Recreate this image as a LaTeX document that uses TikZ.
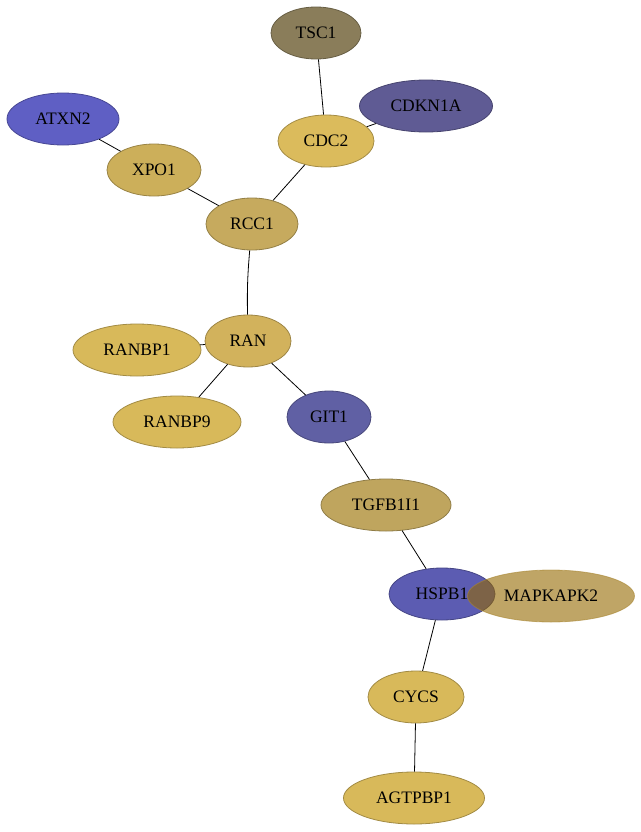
\documentclass[tikz,border=0pt]{standalone}
\usepackage{fontspec}
\setmainfont{Liberation Serif}
\usetikzlibrary{shapes.geometric}
\definecolor{cTSC}{HTML}{8A7D5A}
\definecolor{cCDKN}{HTML}{5F5B94}
\definecolor{cATXN}{HTML}{5F5FC4}
\definecolor{cCDC}{HTML}{DBBB5C}
\definecolor{cXPO}{HTML}{CCAF5A}
\definecolor{cRCC}{HTML}{C6AA5E}
\definecolor{cRAN}{HTML}{D2B25C}
\definecolor{cGold}{HTML}{D8B95A}
\definecolor{cGIT}{HTML}{6060A4}
\definecolor{cTGF}{HTML}{BFA55E}
\definecolor{cHSP}{HTML}{5C5CB2}
\definecolor{cMAP}{RGB}{148,105,0}
\tikzset{
  gene/.style={ellipse, inner sep=0pt, font=\fontsize{17.5bp}{20bp}\selectfont, line width=0.8pt},
  edge/.style={draw=black, line width=0.8pt},
}
\newcommand{\gn}[6]{\node[gene, minimum width=#4bp, minimum height=52bp, fill=#5, draw=#5!75!black] (#1) at (#2bp,-#3bp) {#6};}
\begin{document}
\begin{tikzpicture}
\useasboundingbox (0,0) rectangle (641bp,-832bp);
\gn{TSC1}{316}{33}{90}{cTSC}{TSC1}
\gn{CDKN1A}{426}{106}{133}{cCDKN}{CDKN1A}
\gn{ATXN2}{63}{119}{112}{cATXN}{ATXN2}
\gn{CDC2}{326}{141}{96}{cCDC}{CDC2}
\gn{XPO1}{154}{170}{94}{cXPO}{XPO1}
\gn{RCC1}{252}{224}{92}{cRCC}{RCC1}
\gn{RAN}{248}{341}{86}{cRAN}{RAN}
\gn{RANBP1}{137}{350}{128}{cGold}{RANBP1}
\gn{RANBP9}{177}{422}{128}{cGold}{RANBP9}
\gn{GIT1}{329}{417}{84}{cGIT}{GIT1}
\gn{TGFB1I1}{386}{505}{130}{cTGF}{TGFB1I1}
\gn{HSPB1}{442}{594}{106}{cHSP}{HSPB1}
\node[gene, minimum width=167bp, minimum height=52bp, fill=cMAP, fill opacity=0.6, text opacity=1, draw=cMAP!80!white, draw opacity=0.6] (MAPKAPK2) at (551bp,-596bp) {MAPKAPK2};
\gn{CYCS}{416}{697}{96}{cGold}{CYCS}
\gn{AGTPBP1}{414}{798}{141}{cGold}{AGTPBP1}
\draw[edge] (TSC1) -- (CDC2);
\draw[edge] (CDKN1A) -- (CDC2);
\draw[edge] (ATXN2) -- (XPO1);
\draw[edge] (XPO1) -- (RCC1);
\draw[edge] (CDC2) -- (RCC1);
\draw[edge] (RCC1) to[bend right=3] (RAN);
\draw[edge] (RAN) -- (RANBP1);
\draw[edge] (RAN) -- (RANBP9);
\draw[edge] (RAN) -- (GIT1);
\draw[edge] (GIT1) -- (TGFB1I1);
\draw[edge] (TGFB1I1) -- (HSPB1);
\draw[edge] (HSPB1) -- (CYCS);
\draw[edge] (CYCS) -- (AGTPBP1);
\end{tikzpicture}
\end{document}
